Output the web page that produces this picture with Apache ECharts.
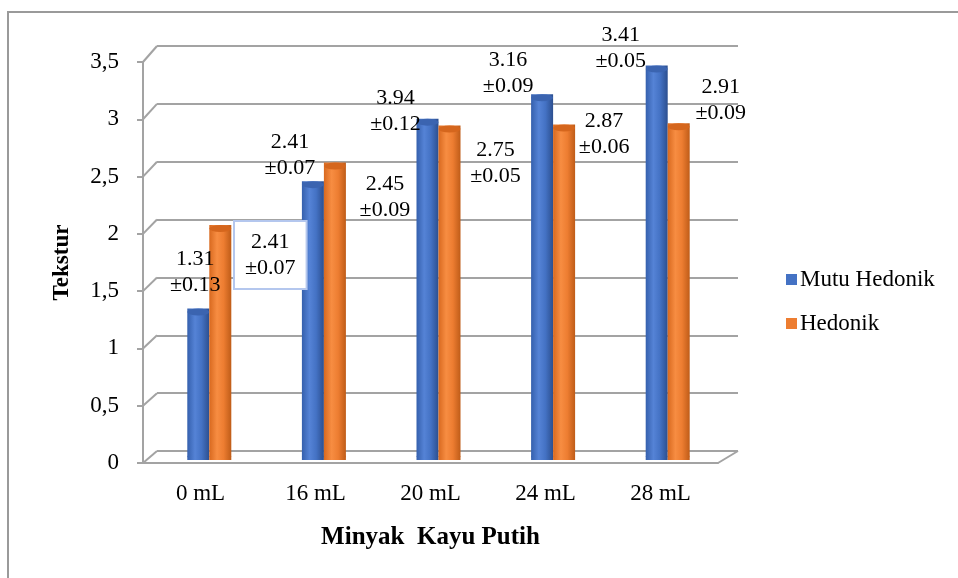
<!DOCTYPE html>
<html>
<head>
<meta charset="utf-8">
<script src="https://cdn.jsdelivr.net/npm/echarts@6/dist/echarts.min.js"></script>
<style>
html,body{margin:0;padding:0;background:#fff;}
#c{width:958px;height:578px;}
</style>
</head>
<body>
<div id="c"></div>
<script>
const categories = ['0 mL', '16 mL', '20 mL', '24 mL', '28 mL'];
const mutuHedonik = [1.31, 2.41, 2.95, 3.16, 3.41];
const hedonik = [2.03, 2.57, 2.89, 2.90, 2.91];
const mutuLabels = ['1.31\n±0.13', '2.41\n±0.07', '3.94\n±0.12', '3.16\n±0.09', '3.41\n±0.05'];
const hedonikLabels = ['2.41\n±0.07', '2.45\n±0.09', '2.75\n±0.05', '2.87\n±0.06', '2.91\n±0.09'];
const yTickValues = [0, 0.5, 1, 1.5, 2, 2.5, 3, 3.5];
const yTickLabels = ['0', '0,5', '1', '1,5', '2', '2,5', '3', '3,5'];
const seriesNames = ['Mutu Hedonik', 'Hedonik'];
const xTitle = 'Minyak  Kayu Putih';
const yTitle = 'Tekstur';

// layout-only settings
const FONT = '"Liberation Serif", "Times New Roman", serif';
const GRID_COLOR = '#a3a3a3';
const mutuOffsets = [[-14, -5], [-34, 5], [-43, 24], [-45, 10], [-47, 14]];
const hedonikOffsets = [[61, 68], [61, 66], [57, 69], [51, 41], [53, 8]];
const boxedHedonik = [true, false, false, false, false];

const chart = echarts.init(document.getElementById('c'), null, {renderer: 'canvas'});

function grad(c0, c1, c2, c3) {
  return new echarts.graphic.LinearGradient(0, 0, 1, 0, [
    {offset: 0, color: c0}, {offset: 0.35, color: c1},
    {offset: 0.65, color: c2}, {offset: 1, color: c3}
  ]);
}
const blueFill = grad('#3560ad', '#5583d6', '#4472c4', '#2c4f8f');
const orangeFill = grad('#d8691f', '#f78d42', '#ed7d31', '#bf5c18');

const labelBase = {
  show: true, position: 'top', distance: 5, align: 'center',
  fontFamily: FONT, fontSize: 22, lineHeight: 26, color: '#000'
};

function capData(vals, labels, offsets, boxed) {
  return vals.map((v, i) => {
    const lab = Object.assign({}, labelBase, {
      formatter: labels[i], offset: offsets[i]
    });
    if (boxed && boxed[i]) {
      Object.assign(lab, {borderColor: '#b4c7ee', borderWidth: 2, padding: [7, 10], backgroundColor: '#fff'});
    }
    return {value: v, label: lab};
  });
}

const option = {
  backgroundColor: '#fff',
  animation: false,
  textStyle: {fontFamily: FONT},
  grid: [
    {left: 152, width: 573, top: 55, height: 405},   // bars (mid depth)
    {left: 157, width: 581, top: 46, height: 405},   // back wall
    {left: 143, width: 575, top: 62, height: 401}    // front axis
  ],
  legend: {
    orient: 'vertical', left: 781, top: 263, itemWidth: 11, itemHeight: 11, itemGap: 21,
    icon: 'rect',
    textStyle: {fontFamily: FONT, fontSize: 23, color: '#000', padding: [0, 0, 0, -2]},
    data: [
      {name: seriesNames[0], itemStyle: {color: '#4472c4'}},
      {name: seriesNames[1], itemStyle: {color: '#ed7d31'}}
    ]
  },
  xAxis: [
    {type: 'category', gridIndex: 0, data: categories, show: false},
    {type: 'category', gridIndex: 1, data: categories, show: false},
    {type: 'category', gridIndex: 2, data: categories,
      axisLine: {show: true, lineStyle: {color: GRID_COLOR, width: 2}},
      axisTick: {show: false},
      axisLabel: {fontFamily: FONT, fontSize: 23, color: '#000', margin: 19},
      name: xTitle, nameLocation: 'middle', nameGap: 62,
      nameTextStyle: {fontFamily: FONT, fontSize: 25, fontWeight: 'bold', color: '#000'}
    }
  ],
  yAxis: [
    {type: 'value', gridIndex: 0, min: 0, max: 3.5, interval: 0.5, show: false},
    {type: 'value', gridIndex: 1, min: 0, max: 3.5, interval: 0.5,
      axisLine: {show: false}, axisTick: {show: false}, axisLabel: {show: false},
      splitLine: {show: true, lineStyle: {color: GRID_COLOR, width: 2}}},
    {type: 'value', gridIndex: 2, min: 0, max: 3.5, interval: 0.5,
      axisLine: {show: true, lineStyle: {color: GRID_COLOR, width: 2}},
      axisTick: {show: true, length: 6, lineStyle: {color: GRID_COLOR, width: 2}},
      splitLine: {show: false},
      axisLabel: {fontFamily: FONT, fontSize: 23, color: '#000', margin: 24,
        formatter: v => yTickLabels[yTickValues.indexOf(Math.round(v * 2) / 2)]},
      name: yTitle, nameLocation: 'middle', nameGap: 69, nameRotate: 90,
      nameTextStyle: {fontFamily: FONT, fontSize: 23, fontWeight: 'bold', color: '#000'}
    }
  ],
  series: [
    {name: seriesNames[0], type: 'bar', xAxisIndex: 0, yAxisIndex: 0, data: mutuHedonik,
      barWidth: 22, barGap: '0%', itemStyle: {color: blueFill}, z: 2},
    {name: seriesNames[1], type: 'bar', xAxisIndex: 0, yAxisIndex: 0, data: hedonik,
      barWidth: 22, barGap: '0%', itemStyle: {color: orangeFill}, z: 2},
    // bottom rounding
    {name: seriesNames[0], type: 'pictorialBar', xAxisIndex: 0, yAxisIndex: 0, data: mutuHedonik,
      symbol: 'circle', symbolSize: [22, 7], symbolPosition: 'start', symbolOffset: [-11, 0],
      itemStyle: {color: '#3f69b8'}, z: 1, silent: true},
    {name: seriesNames[1], type: 'pictorialBar', xAxisIndex: 0, yAxisIndex: 0, data: hedonik,
      symbol: 'circle', symbolSize: [22, 7], symbolPosition: 'start', symbolOffset: [11, 0],
      itemStyle: {color: '#e0722a'}, z: 1, silent: true},
    // top caps carrying the annotation labels
    {name: seriesNames[0], type: 'pictorialBar', xAxisIndex: 0, yAxisIndex: 0,
      data: capData(mutuHedonik, mutuLabels, mutuOffsets),
      symbol: 'circle', symbolSize: [22, 7], symbolPosition: 'end', symbolOffset: [-11, 0],
      itemStyle: {color: '#3b64b0'}, z: 5, silent: true},
    {name: seriesNames[1], type: 'pictorialBar', xAxisIndex: 0, yAxisIndex: 0,
      data: capData(hedonik, hedonikLabels, hedonikOffsets, boxedHedonik),
      symbol: 'circle', symbolSize: [22, 7], symbolPosition: 'end', symbolOffset: [11, 0],
      itemStyle: {color: '#d5661d'}, z: 5, silent: true}
  ]
};
chart.setOption(option);

// 3D wall/floor connectors computed from the axes
const g = [];
const frontLeft = chart.convertToPixel({xAxisIndex: 2}, categories[0]) - 575 / 10;
const backLeft = chart.convertToPixel({xAxisIndex: 1}, categories[0]) - 581 / 10;
const frontRight = frontLeft + 575;
const backRight = backLeft + 581;
yTickValues.forEach(v => {
  const yf = chart.convertToPixel({yAxisIndex: 2}, v);
  const yb = chart.convertToPixel({yAxisIndex: 1}, v);
  g.push({type: 'line', shape: {x1: frontLeft, y1: yf, x2: backLeft, y2: yb},
    style: {stroke: GRID_COLOR, lineWidth: 2}, z: 0});
});
const yf0 = chart.convertToPixel({yAxisIndex: 2}, 0);
const yb0 = chart.convertToPixel({yAxisIndex: 1}, 0);
g.push({type: 'line', shape: {x1: frontRight, y1: yf0, x2: backRight, y2: yb0},
  style: {stroke: GRID_COLOR, lineWidth: 2}, z: 0});
// outer chart frame (left and top edges)
g.push({type: 'polyline', shape: {points: [[8, 578], [8, 12], [958, 12]]},
  style: {stroke: '#9a9a9a', lineWidth: 2, fill: null}, z: 0});
chart.setOption({graphic: g});
</script>
</body>
</html>
